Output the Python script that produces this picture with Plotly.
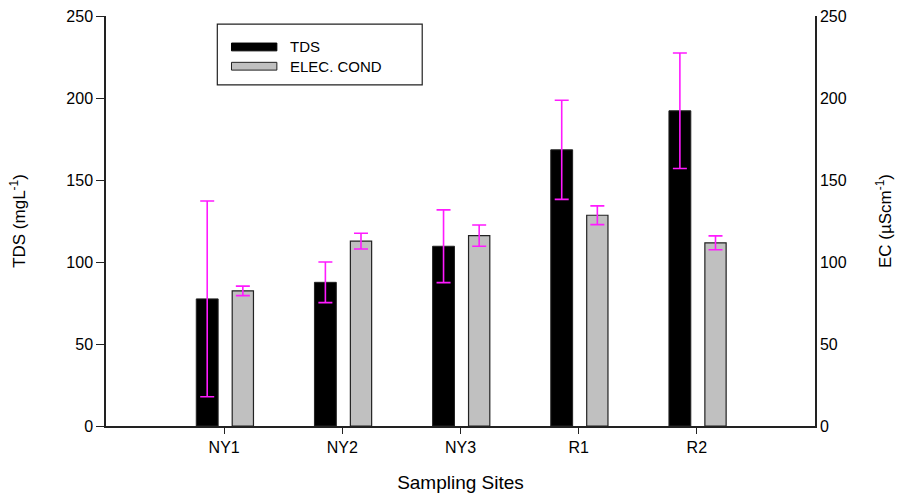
import plotly.graph_objects as go

sites = ["NY1", "NY2", "NY3", "R1", "R2"]
tds = [77.5, 87.6, 109.6, 168.4, 192.2]
tds_err = [59.7, 12.4, 22.2, 30.2, 35.2]
ec = [82.4, 112.7, 116.1, 128.5, 111.7]
ec_err = [2.9, 4.8, 6.5, 5.7, 4.2]
series_names = ["TDS", "ELEC. COND"]
y_ticks = [0, 50, 100, 150, 200, 250]

FONT = "Liberation Sans, Arial, sans-serif"
MAG = "#ff1aff"
xi = list(range(len(sites)))

fig = go.Figure()
fig.add_trace(go.Bar(
    x=xi, y=tds, name=series_names[0], width=0.185, offset=-0.236,
    marker=dict(color="#000000", line=dict(color="#222222", width=1)),
    error_y=dict(type="data", array=tds_err, visible=True, color=MAG, thickness=1.6, width=7),
    yaxis="y", showlegend=False,
))
fig.add_trace(go.Bar(
    x=xi, y=ec, name=series_names[1], width=0.18, offset=0.068,
    marker=dict(color="#c0c0c0", line=dict(color="#222222", width=1.2)),
    error_y=dict(type="data", array=ec_err, visible=True, color=MAG, thickness=1.6, width=7),
    yaxis="y2", showlegend=False,
))

fig.update_layout(
    width=899, height=494,
    margin=dict(l=106, r=84, t=16, b=68),
    paper_bgcolor="white", plot_bgcolor="white",
    barmode="overlay",
    font=dict(family=FONT, size=16, color="#000000"),
    xaxis=dict(
        range=[-1, 5], tickmode="array", tickvals=xi, ticktext=sites,
        showline=True, linecolor="#222222", linewidth=2, ticks="outside",
        ticklen=6, tickcolor="#222222", showgrid=False, zeroline=False,
        title=dict(text="Sampling Sites", font=dict(size=19), standoff=20),
        tickfont=dict(size=16), automargin=False,
    ),
    yaxis=dict(
        range=[0, 250], tickvals=y_ticks, showline=True, linecolor="#222222",
        linewidth=1.5, ticks="outside", ticklen=8, tickcolor="#222222",
        showgrid=False, zeroline=False, tickfont=dict(size=16), automargin=False,
        title=dict(text="TDS (mgL<sup>-1</sup>)", font=dict(size=17), standoff=36),
    ),
    yaxis2=dict(
        range=[0, 250], tickvals=y_ticks, overlaying="y", side="right",
        showline=True, linecolor="#222222", linewidth=1.5, ticks="",
        showgrid=False, zeroline=False, tickfont=dict(size=16), automargin=False,
        title=dict(text="EC (µScm<sup>-1</sup>)", font=dict(size=17), standoff=33),
    ),
)

# custom legend
fig.add_shape(type="rect", xref="paper", yref="paper", x0=0.157, x1=0.446, y0=0.832, y1=0.980,
              line=dict(color="#222222", width=1.2), fillcolor="white")
fig.add_shape(type="rect", xref="paper", yref="paper", x0=0.177, x1=0.241, y0=0.915, y1=0.934,
              line=dict(color="#000000", width=1), fillcolor="#000000")
fig.add_shape(type="rect", xref="paper", yref="paper", x0=0.177, x1=0.241, y0=0.868, y1=0.887,
              line=dict(color="#222222", width=1), fillcolor="#c0c0c0")
for name, yc in zip(series_names, [0.925, 0.877]):
    fig.add_annotation(x=0.257, y=yc, xref="paper", yref="paper", text=name, showarrow=False,
                       xanchor="left", yanchor="middle", font=dict(size=15, family=FONT))

fig.write_html("out.html", config={"displayModeBar": False})

with open("out.html", "r", encoding="utf-8") as f:
    html = f.read()
html = html.replace("<body>", '<body style="margin:0;padding:0">', 1)
with open("out.html", "w", encoding="utf-8") as f:
    f.write(html)
